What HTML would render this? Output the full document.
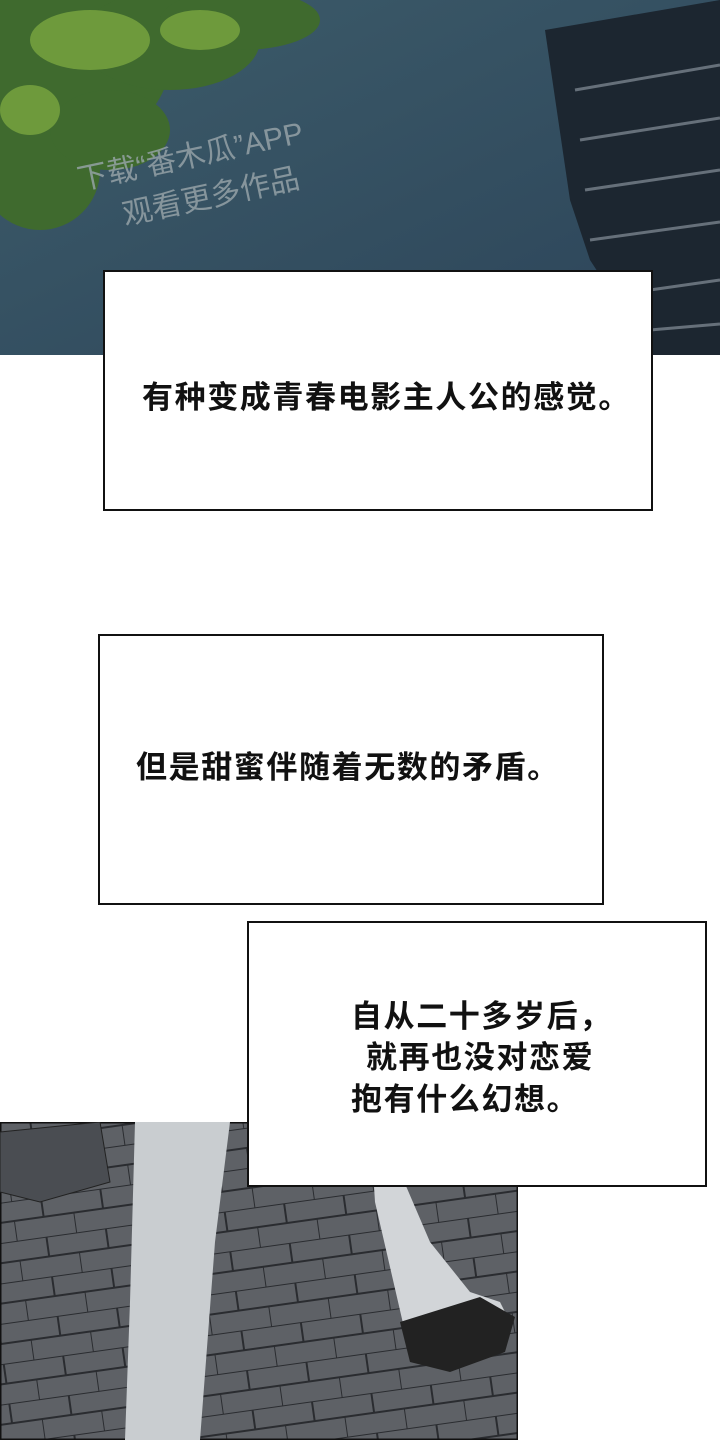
<!DOCTYPE html>
<html><head><meta charset="utf-8"><style>
html,body{margin:0;padding:0;background:#fff;}
body{width:720px;height:1440px;position:relative;overflow:hidden;font-family:"Liberation Sans","Noto Sans CJK SC",sans-serif;}
.box{position:absolute;background:#fff;border:2px solid #111;box-sizing:border-box;}
.t{position:absolute;font-size:31px;line-height:40px;font-weight:bold;letter-spacing:1.6px;color:#111;white-space:nowrap;}
</style></head><body>
<svg width="720" height="360" style="position:absolute;left:0;top:0">
<defs><linearGradient id="sky" x1="0" y1="0" x2="1" y2="1"><stop offset="0" stop-color="#3d5c6a"/><stop offset="1" stop-color="#2c4459"/></linearGradient></defs>
<rect width="720" height="355" fill="url(#sky)"/>
<g fill="#3f6a2e">
<ellipse cx="60" cy="60" rx="110" ry="90"/><ellipse cx="170" cy="40" rx="90" ry="50"/><ellipse cx="240" cy="20" rx="80" ry="30"/>
<ellipse cx="40" cy="170" rx="60" ry="60"/><ellipse cx="110" cy="130" rx="60" ry="40"/>
</g>
<g fill="#6e9a3c"><ellipse cx="90" cy="40" rx="60" ry="30"/><ellipse cx="30" cy="110" rx="30" ry="25"/><ellipse cx="200" cy="30" rx="40" ry="20"/></g>
<polygon points="545,30 720,0 720,355 652,355 590,260 570,200" fill="#1c2630"/>
<g stroke="#66707a" stroke-width="3"><line x1="575" y1="90" x2="720" y2="65"/><line x1="580" y1="140" x2="720" y2="118"/><line x1="585" y1="190" x2="720" y2="170"/><line x1="590" y1="240" x2="720" y2="222"/><line x1="650" y1="290" x2="720" y2="280"/><line x1="650" y1="330" x2="720" y2="324"/></g>
<text x="80" y="190" font-size="30" fill="#9aa6ab" opacity="0.8" transform="rotate(-12 80 190)" font-family="Liberation Sans,Noto Sans CJK SC,sans-serif">下载“番木瓜”APP</text>
<text x="125" y="225" font-size="30" fill="#9aa6ab" opacity="0.8" transform="rotate(-12 125 225)" font-family="Liberation Sans,Noto Sans CJK SC,sans-serif">观看更多作品</text>
</svg>
<svg width="518" height="318" style="position:absolute;left:0;top:1122px">
<defs><pattern id="br" width="60" height="40" patternUnits="userSpaceOnUse" patternTransform="rotate(-8)"><rect width="60" height="40" fill="#5e6166"/><path d="M0 0H60M0 20H60M30 0V20M0 20V40" stroke="#2a2c30" stroke-width="2"/></pattern></defs>
<rect width="518" height="318" fill="url(#br)"/>
<rect x="0" y="0" width="518" height="318" fill="none" stroke="#111" stroke-width="3"/>
<polygon points="0,10 100,0 110,60 40,80 0,70" fill="#4a4d52" stroke="#222"/>
<path d="M135 0 L230 0 L215 120 L200 318 L125 318 L130 180 Z" fill="#c9cdd0"/>
<path d="M370 0 L400 50 L430 120 L470 170 L500 180 L510 200 L490 220 L440 240 L405 210 L375 80 Z" fill="#d2d5d8"/>
<path d="M400 200 L480 175 L515 195 L505 230 L450 250 L410 240 Z" fill="#222"/>
</svg>
<div class="box" style="left:103px;top:270px;width:550px;height:241px"></div>
<div class="t" style="left:142px;top:378px">有种变成青春电影主人公的感觉。</div>
<div class="box" style="left:98px;top:634px;width:506px;height:271px"></div>
<div class="t" style="left:136px;top:748px">但是甜蜜伴随着无数的矛盾。</div>
<div class="box" style="left:247px;top:921px;width:460px;height:266px"></div>
<div class="t" style="left:351px;top:997px">自从二十多岁后，</div>
<div class="t" style="left:366px;top:1038px">就再也没对恋爱</div>
<div class="t" style="left:351px;top:1080px">抱有什么幻想。</div>
</body></html>
